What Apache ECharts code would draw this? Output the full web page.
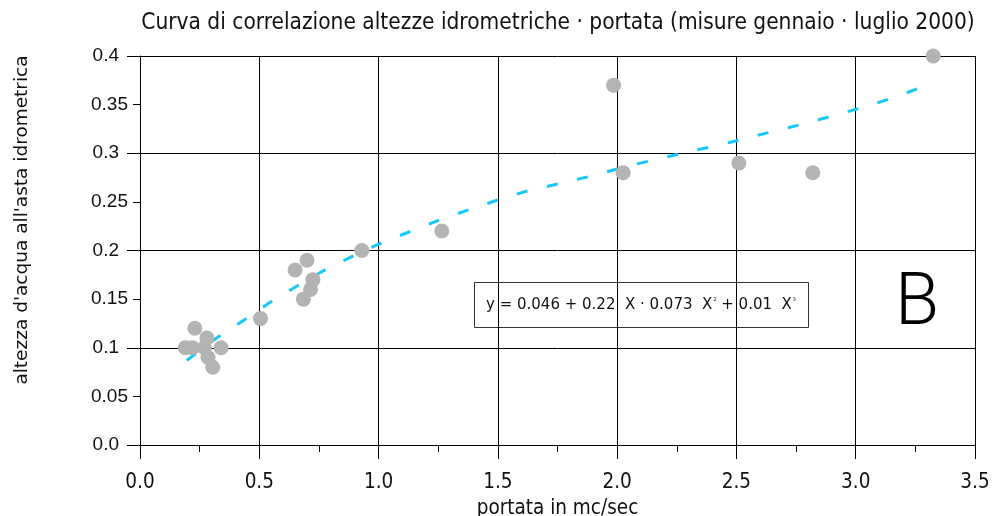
<!DOCTYPE html>
<html>
<head>
<meta charset="utf-8">
<script src="https://cdn.jsdelivr.net/npm/echarts@6/dist/echarts.min.js"></script>
<style>
  html, body { margin: 0; padding: 0; background: #ffffff; }
  #chart { width: 994px; height: 516px; }
</style>
</head>
<body>
<div id="chart"></div>
<script>
// ---- data ----
const titleText = 'Curva di correlazione altezze idrometriche · portata (misure gennaio · luglio 2000)';
const xAxisName = 'portata in mc/sec';
const yAxisName = "altezza d'acqua all'asta idrometrica";

// measured points: portata (mc/sec) and altezza idrometrica (m)
const portata = [0.19, 0.22, 0.23, 0.27, 0.28, 0.285, 0.305, 0.34,
                 0.505, 0.65, 0.70, 0.725, 0.715, 0.685, 0.93, 1.265,
                 1.985, 2.025, 2.51, 2.82, 3.325];
const altezza = [0.10, 0.10, 0.12, 0.10, 0.11, 0.09, 0.08, 0.10,
                 0.13, 0.18, 0.19, 0.17, 0.16, 0.15, 0.20, 0.22,
                 0.37, 0.28, 0.29, 0.28, 0.40];

// fitted curve as drawn in the reference
const fitX = [0.196, 0.321, 0.433, 0.541, 0.655, 0.771, 0.89, 1.013, 1.138, 1.262,
              1.387, 1.513, 1.62, 1.9, 2.03, 2.17, 2.29, 2.42, 2.55, 2.68,
              2.81, 2.94, 3.07, 3.19, 3.31];
const fitY = [0.087, 0.110, 0.128, 0.146, 0.163, 0.1795, 0.194, 0.208, 0.220, 0.232,
              0.2427, 0.253, 0.261, 0.277, 0.286, 0.294, 0.301, 0.308, 0.316, 0.324,
              0.332, 0.341, 0.350, 0.360, 0.371];

const equationParts = ['y = 0.046 + 0.22  X · 0.073  X', '2', ' + 0.01  X', '3'];
const panelLetter = 'B';

// ---- chart ----
const chart = echarts.init(document.getElementById('chart'), null, { renderer: 'canvas' });

const condensed = '"DejaVu Sans Condensed", "DejaVu Sans", sans-serif';
const sans = '"Liberation Sans", Arial, sans-serif';
const dark = '#111111';

const option = {
  backgroundColor: '#ffffff',
  animation: false,
  title: {
    text: titleText,
    left: 553,
    top: 7,
    textAlign: 'center',
    textStyle: { fontFamily: condensed, fontSize: 22.5, fontWeight: 'normal', color: dark }
  },
  grid: { left: 140, right: 19, top: 56, bottom: 71, containLabel: false, outerBoundsMode: 'none' },
  xAxis: {
    type: 'value',
    min: 0, max: 3.5, interval: 0.5,
    name: xAxisName,
    nameLocation: 'middle',
    nameGap: 43,
    nameTextStyle: { fontFamily: condensed, fontSize: 20.5, color: dark },
    axisLine: { show: true, onZero: false, lineStyle: { color: '#000', width: 1 } },
    axisTick: { show: true, length: 14, lineStyle: { color: '#000', width: 1 } },
    minorTick: { show: true, splitNumber: 2, length: 7, lineStyle: { color: '#000', width: 1 } },
    splitLine: { show: true, lineStyle: { color: '#000', width: 1 } },
    axisLabel: {
      margin: 27, fontFamily: condensed, fontSize: 20.5, color: dark,
      formatter: v => Number(v).toFixed(1)
    }
  },
  yAxis: [
    {
      type: 'value',
      min: 0, max: 0.4, interval: 0.1,
      position: 'left',
      axisLine: { show: true, onZero: false, lineStyle: { color: '#000', width: 1 } },
      axisTick: { show: true, length: 13, lineStyle: { color: '#000', width: 1 } },
      minorTick: { show: true, splitNumber: 2, length: 7, lineStyle: { color: '#000', width: 1 } },
      splitLine: { show: true, lineStyle: { color: '#000', width: 1 } },
      axisLabel: {
        margin: 21, fontFamily: sans, fontSize: 19, color: dark,
        formatter: v => (Math.abs(v) < 1e-9 ? '0.0' : String(+Number(v).toFixed(2)))
      }
    },
    {
      type: 'value',
      min: 0, max: 0.4, interval: 0.05,
      position: 'left',
      axisLine: { show: false },
      axisTick: { show: false },
      splitLine: { show: false },
      axisLabel: {
        margin: 12, fontFamily: sans, fontSize: 19, color: dark,
        formatter: v => (Math.round(v * 100) % 10 === 5 ? Number(v).toFixed(2) : '')
      }
    }
  ],
  series: [
    {
      type: 'line',
      name: 'fit',
      xAxisIndex: 0, yAxisIndex: 0,
      data: fitX.map((x, i) => [x, fitY[i]]),
      showSymbol: false,
      symbol: 'none',
      smooth: false,
      lineStyle: { color: '#14c8fa', width: 3, type: [11, 20] },
      z: 3
    },
    {
      type: 'scatter',
      name: 'misure',
      xAxisIndex: 0, yAxisIndex: 0,
      data: portata.map((x, i) => [x, altezza[i]]),
      symbol: 'circle',
      symbolSize: 15,
      itemStyle: { color: '#b3b3b3', opacity: 1 },
      z: 4
    }
  ],
  graphic: [
    {
      type: 'text',
      x: 22, y: 220,
      rotation: Math.PI / 2,
      style: {
        text: yAxisName,
        fontFamily: '"DejaVu Sans", sans-serif', fontSize: 18.5, fill: dark,
        align: 'center', verticalAlign: 'middle'
      },
      z: 10
    },
    {
      type: 'group',
      x: 474, y: 282,
      z: 10,
      children: [
        {
          type: 'rect',
          shape: { x: 0.5, y: 0.5, width: 334, height: 45 },
          style: { fill: '#ffffff', stroke: '#333333', lineWidth: 1 }
        },
        {
          type: 'text',
          x: 12, y: 23,
          style: {
            text: '{n|' + equationParts[0] + '}{s|' + equationParts[1] + '}{n|' + equationParts[2] + '}{s|' + equationParts[3] + '}',
            verticalAlign: 'middle',
            align: 'left',
            rich: {
              n: { fontFamily: '"DejaVu Sans", sans-serif', fontSize: 15, fill: dark, verticalAlign: 'middle' },
              s: { fontFamily: '"DejaVu Sans", sans-serif', fontSize: 5, fill: dark, verticalAlign: 'top', padding: [0, 0, 11, 1] }
            }
          }
        }
      ]
    },
    {
      type: 'text',
      x: 917, y: 306,
      style: {
        text: panelLetter,
        fontFamily: 'Roboto, "Noto Sans", sans-serif', fontWeight: 300,
        fontSize: 72, fill: '#000',
        align: 'center', verticalAlign: 'middle'
      },
      z: 10
    }
  ]
};

chart.setOption(option);
</script>
</body>
</html>
